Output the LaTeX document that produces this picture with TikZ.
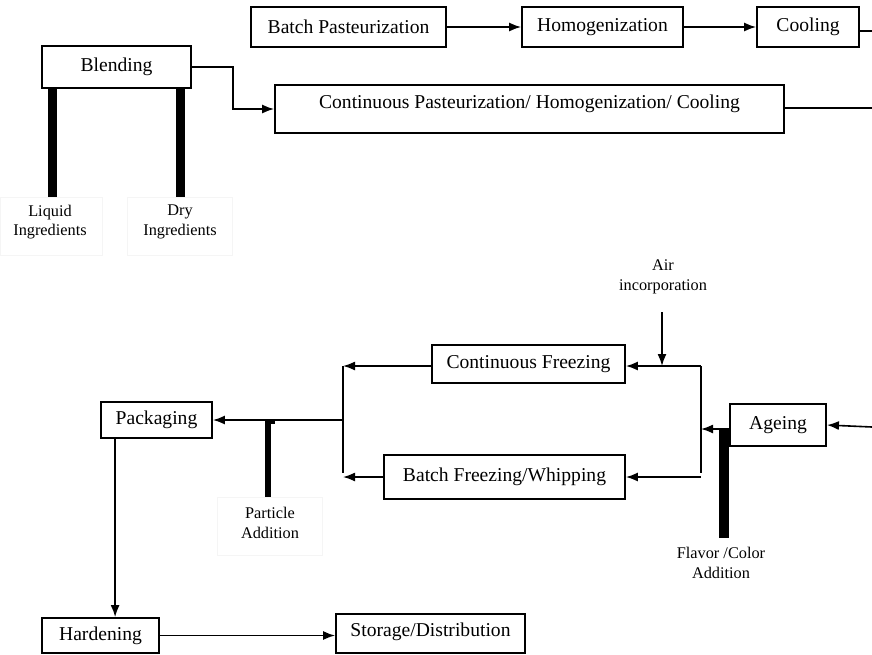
\documentclass[tikz,border=0pt]{standalone}
\usepackage{fontspec}
\setmainfont{Liberation Serif}
\usetikzlibrary{arrows.meta,calc}
\tikzset{
  box/.style={draw, line width=1.8pt, rectangle, inner sep=2pt, font=\fontsize{19.6}{22}\selectfont},
  arr/.style={line width=1.6pt, -{Latex[length=12pt,width=9pt]}},
  ln/.style={line width=1.6pt},
  bar/.style={fill=black, draw=none},
  lab/.style={align=center, font=\fontsize{16.3}{19.5}\selectfont, inner sep=0pt},
  faint/.style={draw=black!4, line width=0.6pt}
}
\begin{document}
\begin{tikzpicture}[x=1pt,y=-1pt]
\useasboundingbox (0,0) rectangle (872,654);
% boxes
\node[box, minimum width=149pt, minimum height=42pt] (blend) at (116.5,67) {Blending};
\node[box, minimum width=195pt, minimum height=40pt] (bpast) at (348.5,27) {Batch Pasteurization};
\node[box, minimum width=161pt, minimum height=40pt] (homog) at (602.5,27) {Homogenization};
\node[box, minimum width=102pt, minimum height=40pt] (cool) at (808,27) {Cooling};
\node[box, minimum width=509pt, minimum height=48pt, text depth=14pt] (cont) at (529.5,109) {Continuous Pasteurization/ Homogenization/ Cooling};
\node[box, minimum width=193pt, minimum height=38pt] (cfreeze) at (528.5,364) {Continuous Freezing};
\node[box, minimum width=241pt, minimum height=44pt] (bfreeze) at (504.5,477) {Batch Freezing/Whipping};
\node[box, minimum width=96pt, minimum height=42pt] (ageing) at (778,425) {Ageing};
\node[box, minimum width=111pt, minimum height=36pt] (pack) at (156.5,420) {Packaging};
\node[box, minimum width=117pt, minimum height=35pt] (hard) at (100.5,635.5) {Hardening};
\node[box, minimum width=189pt, minimum height=39pt, text depth=8pt] (store) at (430.5,633.5) {Storage/Distribution};

% faint label boxes
\draw[faint] (0,197) rectangle (102,255);
\draw[faint] (127,197) rectangle (232,255);
\draw[faint] (217,497) rectangle (322,555);

% labels
\node[lab] (liq) at (50,222) {Liquid\\Ingredients};
\node[lab] (dry) at (180,222) {Dry\\Ingredients};
\node[lab] (air) at (663,277) {Air\\incorporation};
\node[lab] (part) at (270,523) {Particle\\Addition};
\node[lab] (flav) at (721,563) {Flavor /Color\\Addition};

% thick input bars
\fill[bar] (47.5,88) rectangle (56.5,197);
\fill[bar] (175.5,88) rectangle (184.5,197);
\fill[bar] (265,419) rectangle (271,497);
\fill[bar] (265,419) rectangle (274.5,424);
\fill[bar] (719,428) rectangle (729,538);

% coordinates for free ends
\coordinate (c1) at (872,31);
\coordinate (c2) at (872,108);
\coordinate (c3) at (872,427);
\coordinate (airtop) at (662,312);
\coordinate (rj) at (701,366);
\coordinate (rjb) at (701,473);
\coordinate (rjm) at (701,429);
\coordinate (lj) at (343,366);
\coordinate (ljb) at (343,473);
\coordinate (ljm) at (343,420);
\coordinate (pk) at ($(pack.south west)+(15,0)$);

% top connectors
\draw[arr] (blend.east) -- ++(41,0) |- (cont.west);
\draw[arr] (bpast.east) -- (homog.west);
\draw[arr] (homog.east) -- (cool.west);
\draw[ln] (cool.east |- c1) -- (c1);
\draw[ln] (cont.east |- c2) -- (c2);

% right part
\draw[arr] (c3) -- (ageing.east);
\draw[arr] (ageing.west |- rjm) -- (rjm);
\draw[ln] (rj) -- (rjb);
\draw[arr] (rj) -- (cfreeze.east |- rj);
\draw[arr] (rjb |- bfreeze.east) -- (bfreeze.east);
\draw[arr] (airtop) -- (airtop |- rj);

% left part
\draw[arr] (cfreeze.west |- lj) -- (lj);
\draw[arr] (bfreeze.west) -- (ljb |- bfreeze.west);
\draw[ln] (lj) -- (ljb);
\draw[arr] (ljm) -- (pack.east);

% bottom
\draw[arr] (pk) -- (pk |- hard.north);
\draw[arr] (hard.east) -- (hard.east -| store.west);
\end{tikzpicture}
\end{document}
